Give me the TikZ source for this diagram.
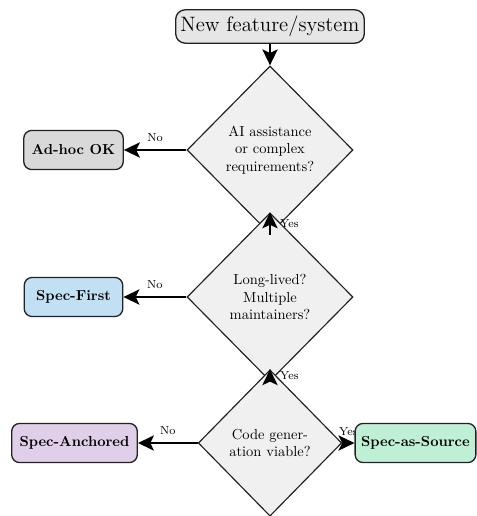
\documentclass[tikz,border=0pt]{standalone}
\usetikzlibrary{shapes.geometric,arrows.meta,backgrounds}
\definecolor{dfill}{HTML}{F0F0F0}
\definecolor{topfill}{HTML}{E6E6E6}
\definecolor{adfill}{HTML}{D9D9D9}
\definecolor{sffill}{HTML}{C2E0F4}
\definecolor{safill}{HTML}{E1CEE8}
\definecolor{ssfill}{HTML}{BFF0D6}
\definecolor{edgecol}{HTML}{222222}
\begin{document}
\begin{tikzpicture}[x=0.69pt,y=-0.69pt,
  decision/.style={diamond, shape aspect=1, draw=edgecol, line width=0.8pt, fill=dfill, align=center, inner sep=0pt},
  outcome/.style={rectangle, rounded corners=5.5pt, draw=edgecol, line width=0.9pt, font=\bfseries, minimum width=68pt, minimum height=27pt, inner xsep=5.5pt},
  startbox/.style={rectangle, rounded corners=6.5pt, draw=edgecol, line width=0.9pt, fill=topfill, font=\Large, minimum height=23pt, inner xsep=3.3pt},
  flow/.style={line width=1.3pt, -{Stealth[length=11pt,width=10.5pt,inset=2.5pt]}},
  lab/.style={font=\footnotesize}]
\useasboundingbox (0,0) rectangle (477,516);

\node[startbox] (top) at (270,26.5) {New feature/system};
\node[decision, minimum width=114.5pt, minimum height=116pt] (d1) at (270,150) {AI assistance\\or complex\\requirements?};
\node[decision, minimum width=114.5pt, minimum height=116pt] (d2) at (270,297) {Long-lived?\\Multiple\\maintainers?};
\node[decision, minimum width=99pt, minimum height=101pt] (d3) at (270,443) {Code gener-\\ation viable?};

\node[outcome, fill=adfill] (adhoc) at (73.5,150) {Ad-hoc OK};
\node[outcome, fill=sffill] (sfirst) at (73.5,297) {Spec-First};
\node[outcome, fill=safill, anchor=west] (sanch) at (11,443) {Spec-Anchored};
\node[outcome, fill=ssfill, anchor=east, inner xsep=4.2pt] (ssrc) at (476.5,443) {Spec-as-Source};

\draw[flow] (top) -- (d1);
\draw[flow] (d1) -- node[lab, midway, above=2pt] {No} (adhoc);
\draw[flow] (d1.south) -- node[lab, midway, right=3pt] {Yes} (d2.north);
\draw[flow] (d2) -- node[lab, midway, above=2pt] {No} (sfirst);
\draw[flow] (d2.south) -- node[lab, midway, right=3pt] {Yes} (d3.north);
\draw[flow] (d3) -- node[lab, midway, above=2pt] {No} (sanch);
\begin{scope}[on background layer]
\draw[flow] (d3) -- node[lab, midway, above=1pt] {Yes} (ssrc);
\end{scope}
\end{tikzpicture}
\end{document}
